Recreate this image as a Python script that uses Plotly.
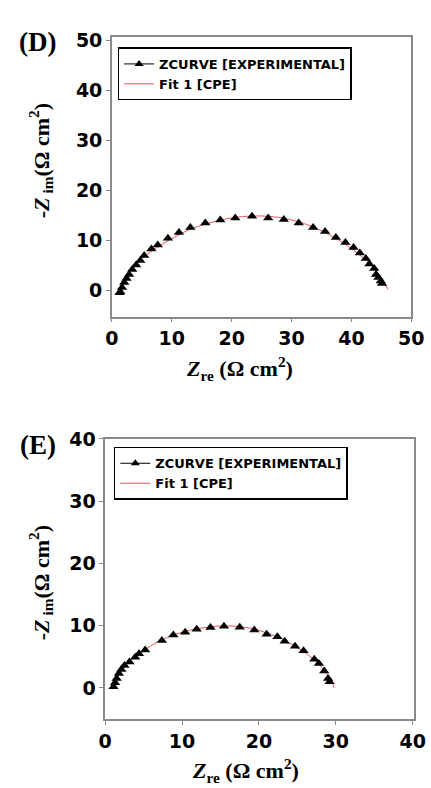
import plotly.graph_objects as go

# ---- Panel D data ----
d_exp_x = [1.28, 1.39, 1.7, 2.07, 2.45, 2.87, 3.4, 4.05, 4.74, 5.4, 6.6, 7.66, 9.36, 11.2, 13.1, 15.6, 18.1, 20.6, 23.4,
           26.1, 28.7, 31.2, 33.6, 35.6, 37.4, 39.0, 40.35, 41.4, 42.4, 43.0, 43.8, 44.1, 44.5, 44.9, 45.1]
d_exp_y = [-0.4, -0.2, 0.6, 1.6, 2.4, 3.2, 4.2, 5.1, 6.0, 7.0, 8.3, 9.1, 10.45, 11.6, 12.6, 13.5, 14.1, 14.5, 14.85,
           14.5, 14.2, 13.5, 12.6, 11.8, 10.6, 9.6, 8.6, 7.5, 6.4, 5.3, 4.4, 3.2, 2.6, 1.9, 1.4]
d_fit_x = [1.1, 1.5, 2.0, 2.8, 4.0, 5.5, 7.5, 10, 13, 16, 19, 22, 25, 28, 31, 34, 37, 40, 42, 43.5, 44.5, 45.3, 46.1]
d_fit_y = [-0.3, 1.0, 2.0, 3.5, 5.2, 6.9, 8.6, 10.4, 12.2, 13.4, 14.3, 14.8, 14.9, 14.6, 13.8, 12.5, 10.7, 8.4, 6.5,
           4.8, 3.4, 2.0, 0.2]

# ---- Panel E data ----
e_exp_x = [1.08, 1.28, 1.49, 1.78, 2.1, 2.5, 3.15, 3.9, 4.39, 5.2, 7.37, 8.86, 10.4, 11.9, 13.7, 15.45, 17.5,
           19.4, 21.0, 22.4, 23.35, 24.7, 25.8, 27.2, 27.8, 28.5, 29.0, 29.2]
e_exp_y = [0.16, 0.84, 1.5, 2.3, 2.95, 3.6, 4.15, 4.9, 5.5, 6.1, 7.6, 8.5, 8.95, 9.4, 9.7, 9.9, 9.75,
           9.3, 8.6, 8.2, 7.5, 6.7, 5.95, 4.6, 3.9, 2.7, 1.5, 1.0]
e_fit_x = [1.0, 1.3, 1.8, 2.5, 3.5, 5, 7, 9, 11, 13, 15, 17, 19, 21, 23, 25, 26.5, 27.8, 28.8, 29.4, 29.8]
e_fit_y = [0.0, 1.0, 2.1, 3.3, 4.6, 6.0, 7.5, 8.55, 9.25, 9.7, 9.95, 9.9, 9.55, 8.85, 7.85, 6.45, 5.2, 3.8, 2.3,
           1.1, 0.0]

d_xticks = [0, 10, 20, 30, 40, 50]
d_yticks = [0, 10, 20, 30, 40, 50]
e_xticks = [0, 10, 20, 30, 40]
e_yticks = [0, 10, 20, 30, 40]

exp_name = "ZCURVE [EXPERIMENTAL]"
fit_name = "Fit 1 [CPE]"

W, H = 431, 788
FIT_COLOR = "#e5545c"
AX_COLOR = "#8a8a8a"

fig = go.Figure()

def add_panel(xe, ye, xf, yf, xa, ya, leg):
    fig.add_trace(go.Scatter(x=xf, y=yf, mode="lines", line=dict(color=FIT_COLOR, width=1, shape="spline"),
                             showlegend=False, xaxis=xa, yaxis=ya))
    fig.add_trace(go.Scatter(x=xe, y=ye, mode="markers",
                             marker=dict(symbol="triangle-up", size=9, color="black"),
                             showlegend=False, xaxis=xa, yaxis=ya))
    fig.add_trace(go.Scatter(x=[None], y=[None], mode="lines+markers", name=exp_name,
                             marker=dict(symbol="triangle-up", size=8, color="black"),
                             line=dict(color="black", width=1), legend=leg, xaxis=xa, yaxis=ya))
    fig.add_trace(go.Scatter(x=[None], y=[None], mode="lines", name=fit_name,
                             line=dict(color=FIT_COLOR, width=1), legend=leg, xaxis=xa, yaxis=ya))

add_panel(d_exp_x, d_exp_y, d_fit_x, d_fit_y, "x", "y", "legend")
add_panel(e_exp_x, e_exp_y, e_fit_x, e_fit_y, "x2", "y2", "legend2")

tickfont = dict(family="DejaVu Sans", size=19, color="black", weight="bold")
axis_common = dict(showgrid=False, zeroline=False, showline=True, linecolor=AX_COLOR, linewidth=1.5,
                   mirror=True, ticks="outside", ticklen=4, tickwidth=1, tickcolor=AX_COLOR,
                   tickfont=tickfont, fixedrange=True, ticklabeloverflow="allow")

def px_x(p):
    return p / W

def px_y(p):
    return 1 - p / H

legfont = dict(family="DejaVu Sans", size=13, color="black", weight="bold")

fig.update_layout(
    width=W, height=H, margin=dict(l=0, r=0, t=0, b=0),
    paper_bgcolor="white", plot_bgcolor="white",
    xaxis=dict(domain=[px_x(110), px_x(424)], range=[0, 50], tickvals=d_xticks, anchor="y", **axis_common),
    yaxis=dict(domain=[px_y(310), px_y(26)], range=[-5.2, 50.7], tickvals=d_yticks, anchor="x", **axis_common),
    xaxis2=dict(domain=[px_x(103), px_x(427)], range=[0, 40.2], tickvals=e_xticks, anchor="y2", **axis_common),
    yaxis2=dict(domain=[px_y(718), px_y(434)], range=[-5, 40], tickvals=e_yticks, anchor="x2", **axis_common),
    legend=dict(x=px_x(116), y=px_y(37), xanchor="left", yanchor="top", bordercolor="black", borderwidth=1.5,
                bgcolor="white", font=legfont, tracegroupgap=0, itemwidth=30),
    legend2=dict(x=px_x(112), y=px_y(442), xanchor="left", yanchor="top", bordercolor="black", borderwidth=1.5,
                 bgcolor="white", font=legfont, tracegroupgap=0, itemwidth=30),
)

serif = dict(family="Liberation Serif", size=22, color="black")
xtitle = "<b><i>Z</i><sub>re</sub> (Ω cm<sup>2</sup>)</b>"
ytitle = "<b>-<i>Z</i><sub> im</sub>(Ω cm<sup>2</sup>)</b>"

annots = [
    dict(text="<b>(D)</b>", x=px_x(32), y=px_y(31)),
    dict(text="<b>(E)</b>", x=px_x(32), y=px_y(440)),
]
for a in annots:
    fig.add_annotation(xref="paper", yref="paper", showarrow=False, xanchor="center", yanchor="middle",
                       font=dict(family="Liberation Serif", size=27, color="black"), **a)

fig.add_annotation(text=xtitle, xref="paper", yref="paper", x=px_x(244), y=px_y(363), showarrow=False,
                   xanchor="center", yanchor="middle", font=serif)
fig.add_annotation(text=xtitle, xref="paper", yref="paper", x=px_x(250), y=px_y(770), showarrow=False,
                   xanchor="center", yanchor="middle", font=serif)
fig.add_annotation(text=ytitle, xref="paper", yref="paper", x=px_x(36), y=px_y(152), showarrow=False,
                   textangle=-90, xanchor="center", yanchor="middle", font=serif)
fig.add_annotation(text=ytitle, xref="paper", yref="paper", x=px_x(36), y=px_y(580), showarrow=False,
                   textangle=-90, xanchor="center", yanchor="middle", font=serif)

fig.write_html("out.html")
